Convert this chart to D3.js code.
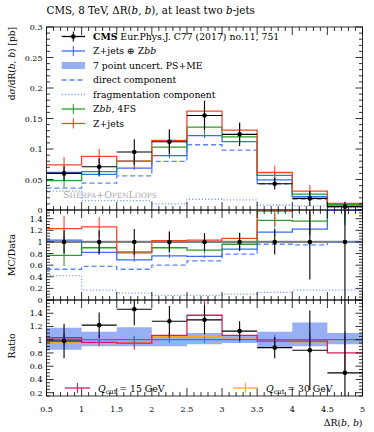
<!DOCTYPE html>
<html><head><meta charset="utf-8">
<script src="https://cdn.jsdelivr.net/npm/d3@7/dist/d3.min.js"></script>
<style>body{margin:0;background:#fff}svg{display:block}text{font-family:"DejaVu Serif",serif}</style>
</head><body><svg id="c" width="374" height="432"></svg>
<script>
// ---------- data ----------
const binEdges = [0.5,1,1.5,2,2.5,3,3.5,4,4.5,5];
// main panel, dσ/dΔR [pb]
const dataVals  = [0.060,0.071,0.095,0.112,0.155,0.124,0.043,0.019,0.0055];
const dataErr   = [0.012,0.014,0.021,0.020,0.024,0.019,0.0093,0.0123,0.0072];
const zjZbb     = [0.0615,0.0585,0.0687,0.089,0.122,0.112,0.0495,0.022,0.008];
const zjZbbErr  = [0.004,0.003,0.003,0.004,0.004,0.004,0.003,0.002,0.001];
const direct    = [0.0358,0.044,0.056,0.0797,0.107,0.098,0.043,0.018,0.0055];
const fragm     = [0.031,0.0153,0.0153,0.0099,0.0176,0.0165,0.0082,0.0066,0.0044];
const zbb4fs    = [0.048,0.063,0.080,0.103,0.136,0.120,0.0566,0.026,0.009];
const zbb4fsErr = [0.011,0.008,0.007,0.009,0.010,0.008,0.005,0.003,0.002];
const zjets     = [0.074,0.088,0.080,0.114,0.162,0.131,0.0615,0.031,0.011];
const zjetsErr  = [0.013,0.012,0.010,0.018,0.017,0.012,0.011,0.010,0.003];
// MC/Data panel
const mcdZjZbb  = [1.03,0.82,0.69,0.76,0.75,0.875,1.17,1.22,1.55];
const mcdDirect = [0.53,0.58,0.53,0.60,0.675,0.79,0.96,0.95,1.0];
const mcdFragm  = [0.42,0.17,0.12,0.08,0.08,0.10,0.13,0.17,0.17];
const mcdZbb4fs = [0.77,0.90,0.81,0.90,0.86,0.96,1.37,1.36,1.65];
const mcdZjets  = [1.23,1.26,0.83,1.02,1.03,1.06,1.53,1.65,2.0];
// Ratio panel
const ratData    = [0.98,1.22,1.46,1.28,1.30,1.13,0.88,0.84,0.50];
const ratDataErr = [0.26,0.19,0.24,0.23,0.22,0.15,0.16,0.60,1.2];
const bandHi     = [1.18,1.12,1.19,1.05,1.10,1.06,1.12,1.26,1.10];
const bandLo     = [0.85,0.90,0.90,0.90,0.93,0.95,0.88,0.90,0.93];
const nomErr     = [0.10,0.07,0.06,0.05,0.05,0.05,0.07,0.10,0.12];
const q15        = [1.03,0.96,0.95,1.065,1.37,1.065,0.98,0.98,0.80];
const q15Err     = [0.06,0.06,0.10,0.05,0.24,0.05,0.05,0.06,0.28];
const q30        = [0.96,0.94,0.96,1.05,1.05,1.03,1.00,0.95,1.00];
const q30Err     = [0.04,0.04,0.04,0.04,0.04,0.03,0.04,0.05,0.06];
// ticks
const xTicks   = [0.5,1,1.5,2,2.5,3,3.5,4,4.5,5];
const mainTicks= [0,0.05,0.1,0.15,0.2,0.25,0.3];
const mcdTicks = [0,0.2,0.4,0.6,0.8,1,1.2,1.4];
const ratTicks = [0.2,0.4,0.6,0.8,1,1.2,1.4];

// ---------- colours ----------
const C = {blue:"#3a6cf2", dash:"#5a86f5", dot:"#7f9dfb", green:"#2c9c2c", red:"#f0482a",
           crim:"#d61d62", orange:"#ffa428", band:"#98aff3"};

const svg = d3.select("#c");
const L=46.5, R=362.5;
const x = d3.scaleLinear().domain([0.5,5]).range([L,R]);
const yMain = d3.scaleLinear().domain([0,0.3]).range([210,27]);
const yMcd  = d3.scaleLinear().domain([0,1.55]).range([300,210]);
const yRat  = d3.scaleLinear().domain([0.15,1.6]).range([396,300]);
const centers = binEdges.slice(0,-1).map((e,i)=>(e+binEdges[i+1])/2);

function clip(id, y0, y1){
  svg.append("clipPath").attr("id",id).append("rect").attr("x",L).attr("y",y0).attr("width",R-L).attr("height",y1-y0);
  return svg.append("g").attr("clip-path",`url(#${id})`);
}
function step(vals, y){
  const pts = vals.map((v,i)=>[binEdges[i],v]); pts.push([binEdges[binEdges.length-1], vals[vals.length-1]]);
  return d3.line().x(d=>x(d[0])).y(d=>y(d[1])).curve(d3.curveStepAfter)(pts);
}
function hist(g, vals, y, col, w, dash){
  const p = g.append("path").attr("d",step(vals,y)).attr("fill","none").attr("stroke",col).attr("stroke-width",w||1.3);
  if(dash) p.attr("stroke-dasharray",dash);
}
function errs(g, vals, err, y, col, w){
  g.selectAll(null).data(vals).enter().append("line")
    .attr("x1",(d,i)=>x(centers[i])).attr("x2",(d,i)=>x(centers[i]))
    .attr("y1",(d,i)=>y(d-err[i])).attr("y2",(d,i)=>y(d+err[i]))
    .attr("stroke",col).attr("stroke-width",w||1.1);
}
function dataPts(g, vals, err, y, xbars){
  if(xbars) g.selectAll(null).data(vals).enter().append("line")
    .attr("x1",(d,i)=>x(binEdges[i])).attr("x2",(d,i)=>x(binEdges[i+1]))
    .attr("y1",d=>y(d)).attr("y2",d=>y(d)).attr("stroke","#000").attr("stroke-width",1.1);
  errs(g, vals, err, y, "#000", 1.1);
  g.selectAll(null).data(vals).enter().append("circle")
    .attr("cx",(d,i)=>x(centers[i])).attr("cy",d=>y(d)).attr("r",2.3).attr("fill","#000");
}
function frame(y, ticks, minorStep, labels){
  const [b,t] = y.range();
  const g = svg.append("g").attr("stroke","#000").attr("stroke-width",0.8);
  g.append("rect").attr("x",L).attr("y",t).attr("width",R-L).attr("height",b-t).attr("fill","none");
  const d0=y.domain();
  const n = Math.round((d0[1]-d0[0])/minorStep)+2;
  for(let k=-1;k<n;k++){
    const v = Math.ceil(d0[0]/minorStep)*minorStep + k*minorStep;
    if(v<d0[0]-1e-9||v>d0[1]+1e-9) continue;
    const major = ticks.some(tv=>Math.abs(tv-v)<1e-6);
    const len = major?7:3.5;
    g.append("line").attr("x1",L).attr("x2",L+len).attr("y1",y(v)).attr("y2",y(v));
    g.append("line").attr("x1",R).attr("x2",R-len).attr("y1",y(v)).attr("y2",y(v));
  }
  for(let v=0.5; v<=5.0001; v+=0.1){
    const major = Math.abs(v*2-Math.round(v*2))<1e-6;
    const len = major?8:4;
    g.append("line").attr("x1",x(v)).attr("x2",x(v)).attr("y1",b).attr("y2",b-len);
    g.append("line").attr("x1",x(v)).attr("x2",x(v)).attr("y1",t).attr("y2",t+len);
  }
  svg.append("g").selectAll(null).data(labels).enter().append("text")
    .attr("x",L-4).attr("y",d=>y(d)+3).attr("text-anchor","end").attr("font-size",8)
    .text(d=>d);
}
function rich(x0,y0,parts,size,opts){
  opts=opts||{};
  const t=svg.append("text").attr("x",x0).attr("y",y0).attr("font-size",size).attr("fill",opts.fill||"#000");
  if(opts.anchor) t.attr("text-anchor",opts.anchor);
  if(opts.transform) t.attr("transform",opts.transform);
  parts.forEach(p=>{
    const s=t.append("tspan").text(p.t);
    if(p.i) s.attr("font-style","italic");
    if(p.b) s.attr("font-weight","bold");
    if(p.sub) s.attr("font-size",size*0.72).attr("dy",2);
    if(p.after) s.attr("dy",-2);
  });
  return t;
}

// ---------- title ----------
rich(46.5,14,[{t:"CMS, 8 TeV, ΔR("},{t:"b",i:1},{t:", "},{t:"b",i:1},{t:"), at least two "},{t:"b",i:1},{t:"-jets"}],10.3);

// ---------- main panel ----------
const gm = clip("cm",27,210);
hist(gm, fragm, yMain, C.dot, 1.3, "1.2,2");
hist(gm, direct, yMain, C.dash, 1.3, "5,3");
hist(gm, zjZbb, yMain, C.blue); errs(gm, zjZbb, zjZbbErr, yMain, C.blue);
hist(gm, zbb4fs, yMain, C.green); errs(gm, zbb4fs, zbb4fsErr, yMain, C.green);
hist(gm, zjets, yMain, C.red); errs(gm, zjets, zjetsErr, yMain, C.red);
dataPts(gm, dataVals, dataErr, yMain, true);
frame(yMain, mainTicks, 0.01, mainTicks);

// sherpa label
const sl = svg.append("text").attr("x",63).attr("y",198).attr("fill","#a8a8a8");
[["S",9.5],["HERPA",7.3],["+O",9.5],["PEN",7.3],["L",9.5],["OOPS",7.3]].forEach(p=>sl.append("tspan").attr("font-size",p[1]).text(p[0]));

// legend
const legRows = [36.5,51,65.5,80,94.5,109,123.5];
const lx0=61.7, lx1=85, tx=93;
const lg = svg.append("g");
function legLine(yy,col,dash,cross){
  const l=lg.append("line").attr("x1",lx0).attr("x2",lx1).attr("y1",yy).attr("y2",yy).attr("stroke",col).attr("stroke-width",1.3);
  if(dash) l.attr("stroke-dasharray",dash);
  if(cross) lg.append("line").attr("x1",(lx0+lx1)/2).attr("x2",(lx0+lx1)/2).attr("y1",yy-5).attr("y2",yy+5).attr("stroke",col).attr("stroke-width",1.1);
}
const LS=9.3;
legLine(legRows[0],"#000",null,true);
lg.append("circle").attr("cx",(lx0+lx1)/2).attr("cy",legRows[0]).attr("r",2.3);
rich(tx,legRows[0]+3.3,[{t:"CMS",b:1},{t:" Eur.Phys.J. C77 (2017) no.11, 751"}],LS);
legLine(legRows[1],C.blue,null,true);
rich(tx,legRows[1]+3.3,[{t:"Z+jets ⊕ Z"},{t:"bb",i:1}],LS);
lg.append("rect").attr("x",lx0).attr("y",legRows[2]-3.5).attr("width",lx1-lx0).attr("height",7).attr("fill",C.band);
rich(tx,legRows[2]+3.3,[{t:"7 point uncert. PS+ME"}],LS);
legLine(legRows[3],C.dash,"5,3");
rich(tx,legRows[3]+3.3,[{t:"direct component"}],LS);
legLine(legRows[4],C.dot,"1.2,2");
rich(tx,legRows[4]+3.3,[{t:"fragmentation component"}],LS);
legLine(legRows[5],C.green,null,true);
rich(tx,legRows[5]+3.3,[{t:"Z"},{t:"bb",i:1},{t:", 4FS"}],LS);
legLine(legRows[6],C.red,null,true);
rich(tx,legRows[6]+3.3,[{t:"Z+jets"}],LS);

// ---------- MC/Data panel ----------
const gd = clip("cd",210,300);
gd.append("line").attr("x1",L).attr("x2",R).attr("y1",yMcd(1)).attr("y2",yMcd(1)).attr("stroke","#808080").attr("stroke-width",2.2);
hist(gd, mcdFragm, yMcd, C.dot, 1.3, "1.2,2");
hist(gd, mcdDirect, yMcd, C.dash, 1.3, "5,3");
hist(gd, mcdZjZbb, yMcd, C.blue); errs(gd, mcdZjZbb, zjZbbErr.map((e,i)=>e/dataVals[i]), yMcd, C.blue);
hist(gd, mcdZbb4fs, yMcd, C.green); errs(gd, mcdZbb4fs, zbb4fsErr.map((e,i)=>e/dataVals[i]), yMcd, C.green);
hist(gd, mcdZjets, yMcd, C.red); errs(gd, mcdZjets, zjetsErr.map((e,i)=>e/dataVals[i]), yMcd, C.red);
dataPts(gd, dataVals.map(()=>1), dataErr.map((e,i)=>e/dataVals[i]), yMcd, false);
frame(yMcd, mcdTicks, 0.05, mcdTicks);

// ---------- Ratio panel ----------
const gr = clip("cr",300,396);
gr.append("path").attr("d", d3.area().x(d=>x(d[0])).y0(d=>yRat(d[1])).y1(d=>yRat(d[2])).curve(d3.curveStepAfter)(
  bandLo.map((v,i)=>[binEdges[i],v,bandHi[i]]).concat([[5,bandLo[bandLo.length-1],bandHi[bandHi.length-1]]])))
  .attr("fill",C.band);
hist(gr, q30, yRat, C.orange); errs(gr, q30, q30Err, yRat, C.orange);
hist(gr, q15, yRat, C.crim); errs(gr, q15, q15Err, yRat, C.crim);
const nom = bandLo.map(()=>1);
hist(gr, nom, yRat, C.blue); errs(gr, nom, nomErr, yRat, C.blue);
dataPts(gr, ratData, ratDataErr, yRat, true);
frame(yRat, ratTicks, 0.05, ratTicks);

// ratio legend
function qLeg(x0,col,txt){
  svg.append("line").attr("x1",x0).attr("x2",x0+25).attr("y1",388).attr("y2",388).attr("stroke",col).attr("stroke-width",1.3);
  svg.append("line").attr("x1",x0+12.5).attr("x2",x0+12.5).attr("y1",383).attr("y2",393).attr("stroke",col).attr("stroke-width",1.1);
  rich(x0+33,391.5,[{t:"Q",i:1},{t:"cut",sub:1},{t:" = "+txt,after:1}],LS);
}
qLeg(65,C.crim,"15 GeV");
qLeg(233,C.orange,"30 GeV");

// x tick labels
svg.append("g").selectAll(null).data(xTicks).enter().append("text")
  .attr("x",d=>x(d)).attr("y",412).attr("text-anchor","middle").attr("font-size",8).text(d=>d);
rich(R,426,[{t:"ΔR("},{t:"b",i:1},{t:", "},{t:"b",i:1},{t:")"}],9.3,{anchor:"end"});

// y labels
rich(0,0,[{t:"d"},{t:"σ",i:1},{t:"/dR("},{t:"b",i:1},{t:", "},{t:"b",i:1},{t:") [pb]"}],9,{anchor:"end",transform:"translate(15,27) rotate(-90)"});
rich(0,0,[{t:"MC/Data"}],9.3,{anchor:"middle",transform:"translate(15,255) rotate(-90)"});
rich(0,0,[{t:"Ratio"}],9.3,{anchor:"middle",transform:"translate(15,346) rotate(-90)"});
</script></body></html>
